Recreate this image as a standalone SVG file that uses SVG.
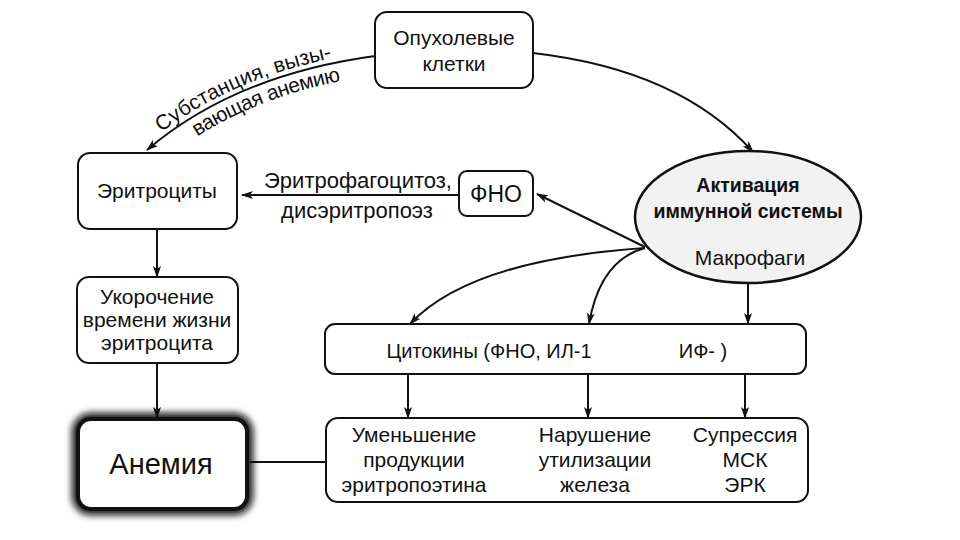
<svg xmlns="http://www.w3.org/2000/svg" width="960" height="540" viewBox="0 0 960 540">
<defs>
<style>
.box{fill:#fff;stroke:#111;stroke-width:2}
.t{font-family:"Liberation Sans","DejaVu Sans",sans-serif;font-size:21px;fill:#111;text-anchor:middle}
.b{font-weight:bold;font-size:19.5px}
.s{text-anchor:start}
.c{fill:none;stroke:#111;stroke-width:2}
</style>
<marker id="ah" viewBox="0 0 12 10" refX="11" refY="5" markerWidth="12" markerHeight="10" markerUnits="userSpaceOnUse" orient="auto">
<path d="M0,1 L12,5 L0,9 L3,5 Z" fill="#111"/>
</marker>
<filter id="blur" x="-20%" y="-20%" width="140%" height="140%"><feGaussianBlur stdDeviation="3.5"/></filter>
<path id="curveL" d="M147,150 Q235,75 375,56"/>
</defs>
<rect width="960" height="540" fill="#fff"/>

<g id="connectors">
<path class="c" d="M375,56 Q235,75 147,150" marker-end="url(#ah)"/>
<path class="c" d="M533,53 Q680,70 753,152" marker-end="url(#ah)"/>
<path class="c" d="M458,195 L242,195" marker-end="url(#ah)"/>
<path class="c" d="M645,247 L537,194" marker-end="url(#ah)"/>
<path class="c" d="M645,248 Q470,260 410,324" marker-end="url(#ah)"/>
<path class="c" d="M645,248 Q600,260 589,324" marker-end="url(#ah)"/>
<path class="c" d="M748,283 L748,324" marker-end="url(#ah)"/>
<path class="c" d="M157,229 L157,277" marker-end="url(#ah)"/>
<path class="c" d="M157,363 L157,418" marker-end="url(#ah)"/>
<path class="c" d="M408,374 L408,418" marker-end="url(#ah)"/>
<path class="c" d="M588,374 L588,418" marker-end="url(#ah)"/>
<path class="c" d="M745,374 L745,418" marker-end="url(#ah)"/>
<path class="c" d="M250,462 L326,462"/>
<text class="t s"><textPath href="#curveL" startOffset="22"><tspan dy="-5">Субстанция, вызы-</tspan></textPath></text>
<text class="t s"><textPath href="#curveL" startOffset="50"><tspan dy="19">вающая анемию</tspan></textPath></text>
<text class="t" x="358" y="188" style="font-size:22px">Эритрофагоцитоз,</text>
<text class="t" x="357" y="218" style="font-size:22px">дисэритропоэз</text>
</g>

<g id="tumor">
<rect class="box" x="375" y="12" width="158" height="76" rx="12"/>
<text class="t" x="454" y="45">Опухолевые</text>
<text class="t" x="454" y="71">клетки</text>
</g>

<g id="erythrocytes">
<rect class="box" x="78" y="153" width="159" height="76" rx="12"/>
<text class="t" x="157" y="198">Эритроциты</text>
</g>

<g id="tnf">
<rect class="box" x="459" y="171" width="74" height="45" rx="8"/>
<text class="t" x="496" y="202" style="font-size:23px">ФНО</text>
</g>

<g id="immune">
<ellipse cx="748" cy="217" rx="113" ry="66" fill="#f2f2f2" stroke="#111" stroke-width="2.5"/>
<text class="t b" x="748" y="192">Активация</text>
<text class="t b" x="748" y="218">иммунной системы</text>
<text class="t" x="750" y="265">Макрофаги</text>
</g>

<g id="shortening">
<rect class="box" x="77" y="277" width="161" height="86" rx="12"/>
<text class="t" x="157" y="304">Укорочение</text>
<text class="t" x="157" y="327">времени жизни</text>
<text class="t" x="157" y="350">эритроцита</text>
</g>

<g id="cytokines">
<rect class="box" x="325" y="324" width="481" height="50" rx="10"/>
<text class="t" x="489" y="358" style="font-size:20px">Цитокины (ФНО, ИЛ-1</text>
<text class="t" x="703" y="358" style="font-size:20px">ИФ-  )</text>
</g>

<g id="effects">
<rect class="box" x="326" y="418" width="482" height="84" rx="12"/>
<text class="t" x="414" y="442">Уменьшение</text>
<text class="t" x="414" y="467">продукции</text>
<text class="t" x="414" y="492">эритропоэтина</text>
<text class="t" x="595" y="442">Нарушение</text>
<text class="t" x="595" y="467">утилизации</text>
<text class="t" x="595" y="492">железа</text>
<text class="t" x="745" y="442">Супрессия</text>
<text class="t" x="745" y="467">МСК</text>
<text class="t" x="745" y="492">ЭРК</text>
</g>

<g id="anemia">
<rect x="77" y="418" width="171" height="92" rx="14" fill="none" stroke="#111" stroke-width="10" filter="url(#blur)"/>
<rect x="78" y="419" width="169" height="90" rx="13" fill="#fff" stroke="#111" stroke-width="4"/>
<text class="t" x="161" y="474" style="font-size:29px">Анемия</text>
</g>
</svg>
